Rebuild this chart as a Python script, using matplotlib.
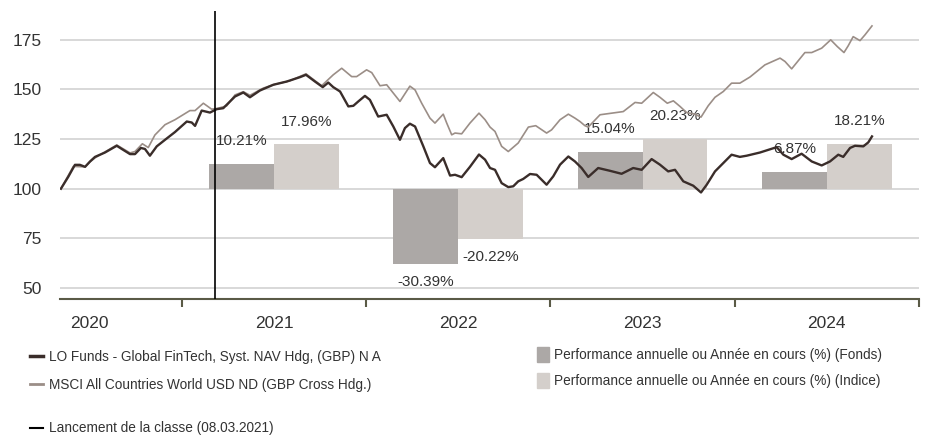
import matplotlib
matplotlib.use("Agg")
import matplotlib.pyplot as plt
from matplotlib.lines import Line2D
from matplotlib.patches import Patch

plt.rcParams["font.family"] = ["Liberation Sans Narrow", "Liberation Sans", "DejaVu Sans"]

# time axis in decimal years
FUND_T = [2020.343, 2020.383, 2020.419, 2020.446, 2020.474, 2020.501, 2020.528, 2020.582,
          2020.646, 2020.673, 2020.718, 2020.745, 2020.777, 2020.799, 2020.826, 2020.863,
          2020.908, 2020.962, 2021.026, 2021.053, 2021.071, 2021.107, 2021.152, 2021.188,
          2021.224, 2021.251, 2021.288, 2021.333, 2021.369, 2021.423, 2021.496, 2021.568,
          2021.640, 2021.673, 2021.722, 2021.764, 2021.794, 2021.821, 2021.858, 2021.903,
          2021.930, 2021.957, 2021.993, 2022.020, 2022.065, 2022.111, 2022.147, 2022.183,
          2022.210, 2022.237, 2022.265, 2022.310, 2022.346, 2022.373, 2022.418, 2022.455,
          2022.482, 2022.518, 2022.563, 2022.612, 2022.645, 2022.672, 2022.699, 2022.735,
          2022.771, 2022.798, 2022.825, 2022.852, 2022.889, 2022.925, 2022.979, 2023.015,
          2023.052, 2023.097, 2023.133, 2023.169, 2023.205, 2023.259, 2023.323, 2023.386,
          2023.449, 2023.495, 2023.549, 2023.594, 2023.639, 2023.676, 2023.721, 2023.775,
          2023.817, 2023.848, 2023.893, 2023.938, 2023.983, 2024.028, 2024.065, 2024.137,
          2024.228, 2024.264, 2024.309, 2024.363, 2024.418, 2024.472, 2024.517, 2024.562,
          2024.589, 2024.626, 2024.653, 2024.698, 2024.725, 2024.745]
FUND_V = [100.0, 106.0, 112.0, 112.0, 111.0, 113.7, 116.0, 118.2,
          121.6, 120.0, 117.4, 117.4, 120.5, 120.0, 116.6, 121.3,
          124.6, 128.5, 133.8, 133.3, 131.6, 139.3, 138.3, 140.0,
          140.5, 143.0, 146.4, 148.4, 146.0, 149.4, 152.3, 153.9,
          156.1, 157.3, 153.9, 151.1, 153.4, 151.1, 148.9, 141.4,
          141.7, 143.9, 146.7, 144.7, 136.3, 137.2, 131.3, 124.6,
          130.5, 132.7, 131.3, 121.3, 112.9, 110.8, 115.4, 106.6,
          107.0, 105.8, 111.0, 117.2, 114.6, 110.4, 109.5, 102.8,
          100.8, 101.2, 103.7, 104.9, 107.4, 107.0, 102.0, 106.2,
          112.1, 116.2, 113.7, 110.4, 105.9, 110.4, 109.0, 107.5,
          110.4, 109.5, 114.9, 112.1, 108.7, 109.5, 103.7, 101.5,
          98.1, 102.0, 108.7, 112.9, 117.1, 116.0, 116.6, 118.2,
          120.9, 117.1, 114.9, 117.6, 113.7, 111.7, 113.7, 117.1,
          116.0, 120.5, 121.6, 121.3, 123.3, 126.3]

INDEX_T = [2020.343, 2020.410, 2020.474, 2020.501, 2020.528, 2020.582, 2020.646, 2020.673,
           2020.718, 2020.745, 2020.785, 2020.817, 2020.853, 2020.908, 2020.962, 2021.043,
           2021.071, 2021.116, 2021.161, 2021.197, 2021.243, 2021.288, 2021.333, 2021.369,
           2021.441, 2021.496, 2021.586, 2021.673, 2021.758, 2021.821, 2021.867, 2021.921,
           2021.948, 2022.002, 2022.030, 2022.075, 2022.111, 2022.147, 2022.183, 2022.237,
           2022.265, 2022.301, 2022.346, 2022.373, 2022.418, 2022.437, 2022.464, 2022.482,
           2022.518, 2022.563, 2022.612, 2022.645, 2022.672, 2022.699, 2022.735, 2022.771,
           2022.825, 2022.880, 2022.920, 2022.979, 2023.006, 2023.052, 2023.097, 2023.133,
           2023.160, 2023.187, 2023.205, 2023.269, 2023.332, 2023.395, 2023.459, 2023.495,
           2023.558, 2023.594, 2023.634, 2023.667, 2023.703, 2023.739, 2023.784, 2023.817,
           2023.856, 2023.893, 2023.938, 2023.983, 2024.028, 2024.083, 2024.164, 2024.246,
           2024.273, 2024.309, 2024.381, 2024.418, 2024.472, 2024.521, 2024.557, 2024.593,
           2024.616, 2024.643, 2024.680, 2024.707, 2024.745]
INDEX_V = [100.0, 111.2, 111.0, 113.5, 115.5, 118.5, 122.0, 120.5,
           118.0, 118.7, 122.6, 120.7, 127.0, 132.2, 134.7, 139.3,
           139.3, 143.0, 140.0, 140.5, 141.7, 147.2, 148.8, 147.0,
           150.6, 152.3, 154.3, 157.8, 151.8, 157.3, 160.6, 156.4,
           156.4, 159.8, 158.4, 151.8, 152.3, 148.1, 143.9, 151.6,
           149.7, 143.0, 135.5, 133.0, 137.5, 133.0, 127.1, 128.0,
           127.6, 133.0, 138.0, 134.7, 131.0, 128.8, 121.3, 118.7,
           123.0, 131.0, 131.7, 128.0, 129.6, 134.7, 137.5, 135.5,
           133.8, 131.7, 131.0, 137.2, 138.0, 138.8, 143.4, 143.0,
           148.4, 146.0, 143.0, 144.2, 141.4, 138.3, 137.5, 136.0,
           141.7, 146.0, 148.9, 153.1, 153.1, 156.2, 162.3, 165.7,
           164.0, 160.3, 168.5, 168.5, 170.7, 174.9, 171.5, 168.5,
           171.9, 176.5, 174.5, 177.4, 181.9]

YEARS = [2021, 2022, 2023, 2024]
FUND_PERF = [10.21, -30.39, 15.04, 6.87]
INDEX_PERF = [17.96, -20.22, 20.23, 18.21]

LAUNCH = 2021.18
YEAR_LABELS = ["2020", "2021", "2022", "2023", "2024"]

FUND_NAME = "LO Funds - Global FinTech, Syst. NAV Hdg, (GBP) N A"
INDEX_NAME = "MSCI All Countries World USD ND (GBP Cross Hdg.)"
BAR_FUND_NAME = "Performance annuelle ou Année en cours (%) (Fonds)"
BAR_INDEX_NAME = "Performance annuelle ou Année en cours (%) (Indice)"
LAUNCH_NAME = "Lancement de la classe (08.03.2021)"

C_FUND = "#3a2d2a"
C_INDEX = "#9b8e87"
C_BAR_FUND = "#aca8a6"
C_BAR_INDEX = "#d4cfcb"
C_AXIS = "#5a5a46"
C_GRID = "#d6d6d6"
C_TEXT = "#333333"

YLIM = (44.5, 189.4)
XLIM = (2020.338, 2025.0)
BAR_SCALE = 1.24   # index points per % on the bar axis
BAR_W = 0.352

fig = plt.figure(figsize=(9.26, 4.37), dpi=100)
ax = fig.add_axes([0.0648, 0.3158, 0.9276, 0.659])
ax_bar = ax.twinx()
ax_line = ax.twinx()
ax.set_zorder(0)
ax_bar.set_zorder(1)
ax_line.set_zorder(2)
for a in (ax_bar, ax_line):
    a.patch.set_visible(False)
    a.set_yticks([])
    for s in a.spines.values():
        s.set_visible(False)

# base axis: grid + ticks
ax.set_xlim(*XLIM)
ax.set_ylim(*YLIM)
ax.set_yticks([50, 75, 100, 125, 150, 175])
ax.grid(axis="y", color=C_GRID, lw=1.3)
ax.set_axisbelow(True)
for side in ("top", "right", "left"):
    ax.spines[side].set_visible(False)
ax.spines["bottom"].set_color(C_AXIS)
ax.spines["bottom"].set_linewidth(1.5)
ax.tick_params(axis="y", length=0, pad=13, labelsize=12.5, labelcolor=C_TEXT)
ax.set_xticks([2021, 2022, 2023, 2024, 2025])
ax.set_xticklabels([])
ax.tick_params(axis="x", which="major", length=6, width=1.5, color=C_AXIS)
ax.set_xticks([y + 0.5 for y in range(2020, 2025)], minor=True)
ax.set_xticklabels(YEAR_LABELS, minor=True)
ax.tick_params(axis="x", which="minor", length=0, pad=12.5, labelsize=12.5, labelcolor=C_TEXT)

# bars on their own scale, zero aligned with 100
ax_bar.set_ylim((YLIM[0] - 100) / BAR_SCALE, (YLIM[1] - 100) / BAR_SCALE)
ax_bar.set_xlim(*XLIM)
mid = [y + 0.5 for y in YEARS]
fb = ax_bar.bar([m - BAR_W / 2 for m in mid], FUND_PERF, width=BAR_W, color=C_BAR_FUND)
ib = ax_bar.bar([m + BAR_W / 2 for m in mid], INDEX_PERF, width=BAR_W, color=C_BAR_INDEX)
for bars, vals in ((fb, FUND_PERF), (ib, INDEX_PERF)):
    for b, v in zip(bars, vals):
        x = b.get_x() + b.get_width() / 2
        off = 16.5 if v > 0 else -13
        ax_bar.annotate(f"{v:.2f}%", (x, v), xytext=(0, off), textcoords="offset points",
                        ha="center", va="center", fontsize=11, color=C_TEXT)

# lines
ax_line.set_ylim(*YLIM)
ax_line.set_xlim(*XLIM)
ax_line.plot(INDEX_T, INDEX_V, color=C_INDEX, lw=1.2)
ax_line.plot(FUND_T, FUND_V, color=C_FUND, lw=1.7)
ax_line.axvline(LAUNCH, color="black", lw=1.2)

# legends
leg_kw = dict(frameon=False, fontsize=9.8, labelcolor=C_TEXT, borderpad=0, borderaxespad=0)
lh = [Line2D([], [], color=C_FUND, lw=2.5), Line2D([], [], color=C_INDEX, lw=2)]
fig.legend(lh, [FUND_NAME, INDEX_NAME], loc="upper left", bbox_to_anchor=(0.032, 0.199),
           handlelength=1.0, handletextpad=0.4, labelspacing=1.0, **leg_kw)
ph = [Patch(color=C_BAR_FUND), Patch(color=C_BAR_INDEX)]
fig.legend(ph, [BAR_FUND_NAME, BAR_INDEX_NAME], loc="upper left", bbox_to_anchor=(0.58, 0.205),
           handlelength=0.85, handleheight=1.3, handletextpad=0.4, labelspacing=0.8, **leg_kw)
fig.legend([Line2D([], [], color="black", lw=1.5)], [LAUNCH_NAME], loc="upper left",
           bbox_to_anchor=(0.032, 0.036), handlelength=1.0, handletextpad=0.4, **leg_kw)

fig.savefig("out.png", dpi=100)
